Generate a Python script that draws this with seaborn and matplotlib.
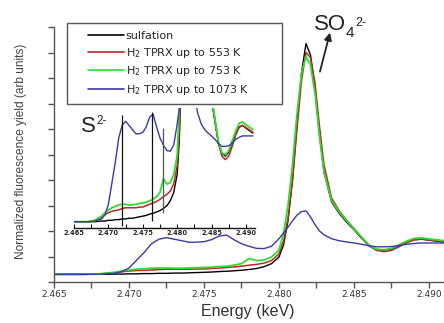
import pandas as pd
import seaborn as sns
import matplotlib.pyplot as plt
from matplotlib.lines import Line2D
from matplotlib.patches import Rectangle
from matplotlib.ticker import MultipleLocator

# S K-edge XANES (arb. units)
energy = [2.465, 2.467, 2.468, 2.469, 2.4695, 2.470, 2.4705, 2.471, 2.4715, 2.472,
          2.4725, 2.473, 2.4735, 2.474, 2.4745, 2.475, 2.4755, 2.476, 2.4765, 2.477,
          2.4775, 2.478, 2.4785, 2.479, 2.4795, 2.480, 2.4803, 2.4806, 2.4809, 2.4812,
          2.4815, 2.4818, 2.4821, 2.4824, 2.4827, 2.483, 2.4835, 2.484, 2.4845, 2.485,
          2.4855, 2.486, 2.4865, 2.487, 2.4875, 2.488, 2.4885, 2.489, 2.4895, 2.490, 2.491]

sulfation = [0.30, 0.30, 0.30, 0.31, 0.31, 0.32, 0.32, 0.33, 0.33, 0.34,
             0.34, 0.35, 0.35, 0.36, 0.37, 0.38, 0.39, 0.41, 0.42, 0.44,
             0.46, 0.49, 0.53, 0.60, 0.72, 0.98, 1.45, 2.4, 4.0, 6.2,
             8.2, 9.35, 8.9, 7.6, 5.8, 4.3, 3.15, 2.7, 2.35, 2.05,
             1.72, 1.42, 1.28, 1.24, 1.30, 1.42, 1.56, 1.66, 1.68, 1.64, 1.57]

tprx_553 = [0.30, 0.30, 0.31, 0.36, 0.40, 0.43, 0.45, 0.46, 0.47, 0.49,
            0.50, 0.50, 0.50, 0.50, 0.51, 0.51, 0.53, 0.55, 0.57, 0.59,
            0.62, 0.66, 0.69, 0.74, 0.84, 1.10, 1.60, 2.5, 4.0, 6.0,
            7.9, 9.0, 8.8, 7.8, 6.1, 4.6, 3.3, 2.8, 2.42, 2.1,
            1.76, 1.42, 1.24, 1.19, 1.24, 1.38, 1.54, 1.65, 1.68, 1.65, 1.58]

tprx_753 = [0.30, 0.30, 0.32, 0.38, 0.43, 0.47, 0.50, 0.52, 0.54, 0.55,
            0.55, 0.54, 0.54, 0.55, 0.56, 0.57, 0.58, 0.60, 0.62, 0.66,
            0.72, 0.92, 0.84, 0.86, 0.98, 1.25, 1.9, 3.0, 4.6, 6.6,
            8.2, 8.84, 8.5, 7.4, 5.7, 4.3, 3.2, 2.75, 2.4, 2.08,
            1.76, 1.45, 1.29, 1.26, 1.32, 1.46, 1.60, 1.71, 1.73, 1.69, 1.62]

tprx_1073 = [0.30, 0.30, 0.31, 0.34, 0.40, 0.55, 0.85, 1.15, 1.50, 1.68,
             1.74, 1.68, 1.62, 1.56, 1.56, 1.58, 1.66, 1.80, 1.84, 1.66,
             1.50, 1.40, 1.32, 1.31, 1.40, 1.70, 1.92, 2.15, 2.40, 2.62,
             2.76, 2.79, 2.55, 2.25, 2.0, 1.85, 1.70, 1.62, 1.57, 1.53,
             1.48, 1.42, 1.38, 1.38, 1.39, 1.43, 1.48, 1.51, 1.53, 1.53, 1.53]

labels = ['sulfation', 'H$_2$ TPRX up to 553 K', 'H$_2$ TPRX up to 753 K', 'H$_2$ TPRX up to 1073 K']
colors = ['#000000', '#b32a2a', '#2fdc2f', '#3a3aa6']
widths = [1.0, 1.1, 1.3, 1.0]
series = [sulfation, tprx_553, tprx_753, tprx_1073]

# vertical marker lines in the inset
marker_energy = [2.4720, 2.4763, 2.4779]
marker_low = [0.24, 0.31, 0.43]
marker_high = [1.83, 1.87, 1.64]
marker_colors = ['#111111', '#111111', '#555555']

xticks = [2.465, 2.470, 2.475, 2.480, 2.485, 2.490]
arrow_tail = (2.48273, 8.25)
arrow_head = (2.4834, 9.78)

df = pd.DataFrame({
    'energy': energy * len(series),
    'signal': [v for s in series for v in s],
    'sample': [lab for lab, s in zip(labels, series) for _ in s],
})

sns.set_theme(style='ticks')
plt.rcParams['font.family'] = ['DejaVu Sans']

W, H = 444, 323
fig = plt.figure(figsize=(W / 100, H / 100), dpi=100)


def fpos(x, y):
    # top-left pixel -> figure fraction
    return x / W, 1 - y / H


ax = fig.add_axes([54 / W, 41 / H, 390 / W, 255 / H])
ins = fig.add_axes([74 / W, 95 / H, 181 / W, 120 / H], facecolor='none')

for a in (ax, ins):
    for lab, c, lw in zip(labels, colors, widths):
        sns.lineplot(data=df[df['sample'] == lab], x='energy', y='signal', color=c,
                     linewidth=lw, ax=a, legend=False, sort=False, estimator=None)

for e, lo, hi, c in zip(marker_energy, marker_low, marker_high, marker_colors):
    ins.vlines(e, lo, hi, color=c, linewidth=0.9)

# main axes
ax.set_xlim(2.465, 2.491)
ax.set_ylim(0, 10)
ax.set_xticks(xticks)
ax.set_xticklabels(['%.3f' % t for t in xticks])
ax.xaxis.set_minor_locator(MultipleLocator(0.0025))
ax.yaxis.set_major_locator(MultipleLocator(1))
ax.set_yticklabels([])
sns.despine(ax=ax)
for sp in ('left', 'bottom'):
    ax.spines[sp].set_color('#555555')
    ax.spines[sp].set_linewidth(1.0)
ax.tick_params(which='both', direction='out', length=4, width=1, color='#555555',
               labelsize=6.5, labelcolor='#333333', pad=2)
ax.set_xlabel('Energy (keV)', fontsize=11.5, color='#333333', family='Liberation Sans')
ax.set_ylabel('Normalized fluorescence yield (arb units)', fontsize=8.6,
              color='#444444', family='Liberation Sans')
ax.xaxis.label.set_va('center')
ax.yaxis.label.set_va('center')
ax.xaxis.set_label_coords(0.496, -0.114)
ax.yaxis.set_label_coords(-0.085, 0.514)

ax.annotate('', xy=arrow_head, xytext=arrow_tail,
            arrowprops=dict(arrowstyle='-|>', color='#222222', lw=1.3, mutation_scale=11,
                            shrinkA=0, shrinkB=0))

# inset
ins.set_xlim(2.465, 2.49131)
ins.set_ylim(0.21, 1.93)
ins.set_xticks(xticks)
ins.set_xticklabels(['%.3f' % t for t in xticks])
ins.xaxis.set_minor_locator(MultipleLocator(0.0025))
ins.set_yticks([])
ins.set_xlabel('')
ins.set_ylabel('')
for sp in ('left', 'top', 'right'):
    ins.spines[sp].set_visible(False)
ins.spines['bottom'].set_color('#111111')
ins.spines['bottom'].set_linewidth(1.0)
ins.tick_params(which='both', direction='in', length=3, width=0.8, color='#111111',
                labelsize=4.8, pad=1.5)
for t in ins.get_xticklabels():
    t.set_fontweight('bold')

# legend with a plain square frame
fig.patches.append(Rectangle(fpos(67, 104), 215 / W, 81 / H, transform=fig.transFigure,
                             facecolor='white', edgecolor='#555555', linewidth=1.0, zorder=5))
handles = [Line2D([], [], color=c, lw=1.2) for c in colors]
leg = fig.legend(handles, labels, loc='upper left', bbox_to_anchor=fpos(88, 31),
                 frameon=False, borderpad=0, borderaxespad=0, handlelength=3.2,
                 handletextpad=0.2, labelspacing=0.42, fontsize=8)
leg.set_zorder(6)

# species labels
fig.text(*fpos(81, 132), 'S', fontsize=16, family='Liberation Sans', color='#222222',
         va='baseline', ha='left')
fig.text(*fpos(96, 124), '2-', fontsize=8.5, family='Liberation Sans', color='#222222',
         va='baseline', ha='left')
fig.text(*fpos(314, 30.5), 'SO', fontsize=16, family='Liberation Sans', color='#222222',
         va='baseline', ha='left')
fig.text(*fpos(346, 37), '4', fontsize=11, family='Liberation Sans', color='#222222',
         va='baseline', ha='left')
fig.text(*fpos(355, 26), '2-', fontsize=9, family='Liberation Sans', color='#222222',
         va='baseline', ha='left')

plt.savefig('out.png', dpi=100)
plt.close()
